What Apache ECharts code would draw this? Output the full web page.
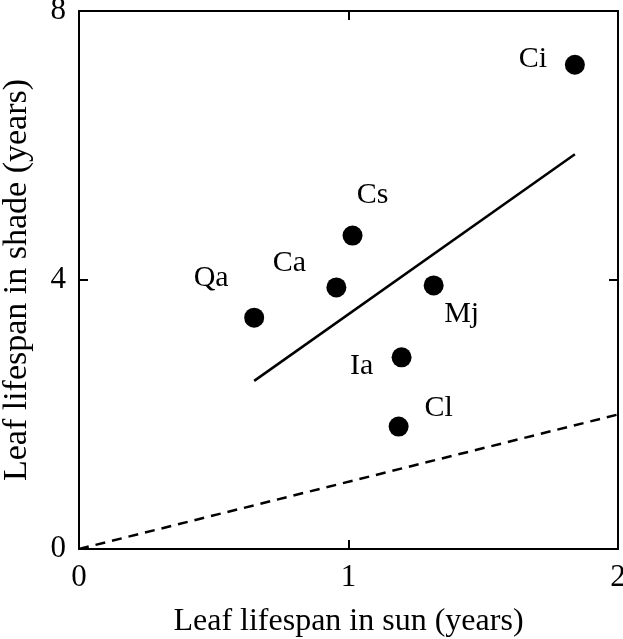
<!DOCTYPE html>
<html><head><meta charset="utf-8">
<script src="https://cdn.jsdelivr.net/npm/echarts@6/dist/echarts.min.js"></script>
<style>html,body{margin:0;padding:0;background:#fff}#c{width:623px;height:639px}</style>
</head><body><div id="c"></div>
<script>
const species = ['Ci','Cs','Ca','Qa','Mj','Ia','Cl'];
const sunLifespan = [1.84, 1.015, 0.955, 0.65, 1.316, 1.197, 1.186];
const shadeLifespan = [7.2, 4.66, 3.89, 3.44, 3.92, 2.85, 1.82];
const regressionX = [0.65, 1.84];
const regressionY = [2.50, 5.87];
const oneToOneX = [0, 2];
const oneToOneY = [0, 2];
const xTicks = [0, 1, 2];
const yTicks = [0, 4, 8];

const labelOffsets = {Ci:[-42,-6], Cs:[20,-40], Ca:[-47,-24], Qa:[-43,-40], Mj:[28,29], Ia:[-40,9], Cl:[40,-18]};
const font = 'Liberation Serif';

const chart = echarts.init(document.getElementById('c'));
const axisCommon = {
  type:'value', splitLine:{show:false},
  axisLine:{show:true, onZero:false, lineStyle:{color:'#000', width:2}},
  axisTick:{show:true, inside:true, length:9, lineStyle:{color:'#000', width:2}}
};
chart.setOption({
  animation:false,
  grid:{left:79, right:5, top:11, bottom:90, outerBoundsMode:'none', containLabel:false},
  xAxis:[
    Object.assign({}, axisCommon, {min:0, max:2, interval:1, position:'bottom',
      name:'Leaf lifespan in sun (years)', nameLocation:'middle', nameGap:57,
      nameTextStyle:{fontFamily:font, fontSize:32, color:'#000'},
      axisLabel:{fontFamily:font, fontSize:31, color:'#000', margin:13, showMaxLabel:true}}),
    Object.assign({}, axisCommon, {min:0, max:2, interval:1, position:'top', axisLabel:{show:false}})
  ],
  yAxis:[
    Object.assign({}, axisCommon, {min:0, max:8, interval:4, position:'left',
      name:'Leaf lifespan in shade (years)', nameLocation:'middle', nameGap:45,
      nameTextStyle:{fontFamily:font, fontSize:34, color:'#000'},
      axisLabel:{fontFamily:font, fontSize:31, color:'#000', margin:13}}),
    Object.assign({}, axisCommon, {min:0, max:8, interval:4, position:'right', axisLabel:{show:false}})
  ],
  series:[
    {type:'scatter', symbol:'circle', symbolSize:20, itemStyle:{color:'#000', opacity:1},
     emphasis:{disabled:true},
     data: species.map((s,i)=>({value:[sunLifespan[i], shadeLifespan[i]], name:s,
       label:{show:true, position:'inside', offset:labelOffsets[s], formatter:s,
         fontFamily:font, fontSize:30, color:'#000', opacity:1}})), z:3},
    {type:'line', symbol:'none', lineStyle:{color:'#000', width:2.5},
     data: regressionX.map((x,i)=>[x, regressionY[i]])},
    {type:'line', symbol:'none', lineStyle:{color:'#000', width:2.5, type:[10,7]},
     data: oneToOneX.map((x,i)=>[x, oneToOneY[i]])}
  ]
});
</script></body></html>
